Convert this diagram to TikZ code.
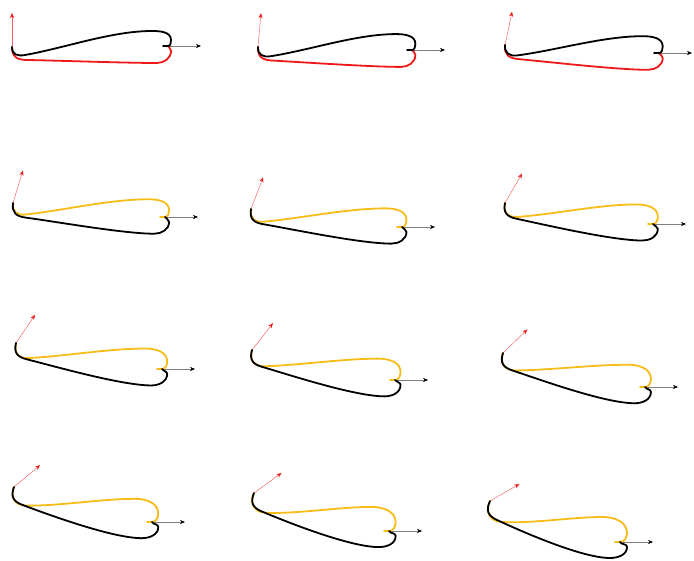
\documentclass[tikz,border=0pt]{standalone}
\usetikzlibrary{calc,arrows.meta}
\definecolor{foilgold}{RGB}{248,188,24}
\definecolor{foilred}{RGB}{238,24,24}

% the two strips of one frame, from the left end (L) to the trailing end (T)
\newcommand{\upperstrip}[1]{\draw[strip, #1] (L) to[out=\oL, in=\iS, looseness=1.3] (S)
  to[out=\oS, in=180, looseness=0.8] (P) to[out=0, in=90] (R) to[out=270, in=0] (T) -- ++(-5,0);}
\newcommand{\lowerstrip}[1]{\draw[strip, #1] (L) to[out=\oL, in=\iD, looseness=1.3] (D)
  to[out=\oD, in=180, looseness=0.6] (B) to[out=0, in=270] (Q) to[out=90, in=300] (T);}

\begin{document}
\begin{tikzpicture}[x=1pt, y=1pt,
  strip/.style={line width=1.8pt, line cap=round},
  lift/.style={draw=foilred!70, line width=0.45pt, -{Stealth[length=5pt, width=4pt, color=foilred]}},
  drift/.style={draw=black!50, line width=0.45pt, -{Stealth[length=5pt, width=4pt, color=black]}}
]
\useasboundingbox (0,0) rectangle (694,-561);

\foreach \k/\a/\lx/\ly/\tx/\ty in {
  0/90/12/47/168/46, 1/85/258/47/412/50, 2/78/505/45/659/53,
  3/73/13/203/165/217, 4/69/251/209/402/227, 5/60/505/203/653/224,
  6/56/16/343/162/369, 7/52/252/350/395/380, 8/44/503/353/645/387,
  9/40/14/487/152/522, 10/36/254/493/389/531, 11/30/490/501/620/542}
{
  \pgfmathsetmacro{\t}{\k/11}
  \pgfmathsetmacro{\oL}{270-25*\t}
  \pgfmathsetmacro{\oS}{10-13*\t}
  \pgfmathsetmacro{\iS}{\oS+180}
  \pgfmathsetmacro{\oD}{-1-24*\t}
  \pgfmathsetmacro{\iD}{\oD+180}
  \coordinate (L) at (\lx,-\ly);
  \coordinate (T) at (\tx,-\ty);
  \coordinate (A) at ($(L)+(\a:34)$);
  \coordinate (E) at ($(T)+(33,0)$);
  \coordinate (S) at ($(L)+(13-\t,-8-13*\t)$);
  \coordinate (D) at ($(L)+(15-8*\t,-13-6*\t)$);
  \coordinate (P) at ($(T)+(-16-\t,15+10*\t)$);
  \coordinate (R) at ($(T)+(3+4*\t,6+3*\t)$);
  \coordinate (B) at ($(T)+(-11+\t,-17+\t)$);
  \coordinate (Q) at ($(T)+(3+4*\t,-5)$);

  \draw[lift] (L) -- (A);
  \draw[drift] (T) -- (E);
  \ifnum\k<3
    \lowerstrip{foilred}
    \upperstrip{black}
  \else
    \upperstrip{foilgold}
    \lowerstrip{black}
  \fi
}
\end{tikzpicture}
\end{document}
